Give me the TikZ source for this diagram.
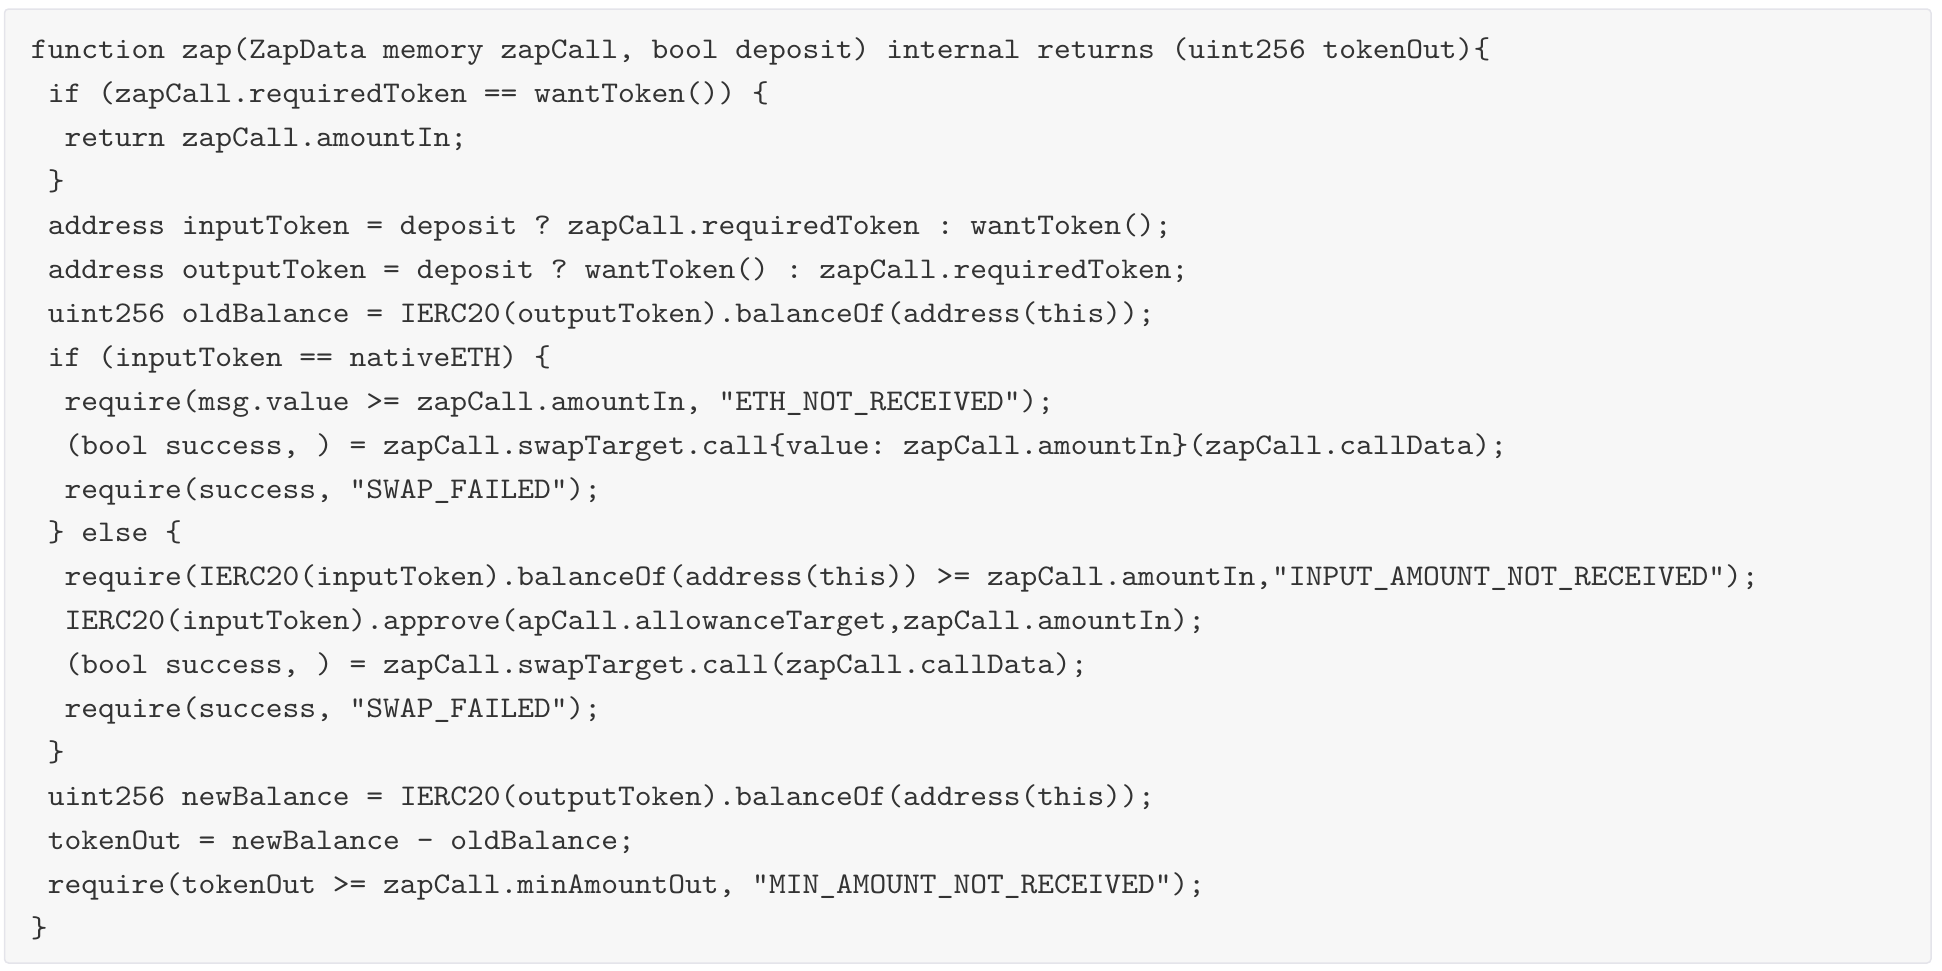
\documentclass[tikz,border=0pt]{standalone}
\usepackage{fontspec}
\newfontfamily\codefont{lmmono10-regular.otf}[FakeStretch=1.065]
\definecolor{codebg}{HTML}{F7F7F7}
\definecolor{codeborder}{HTML}{E4E4EA}
\definecolor{codetext}{HTML}{333333}
\tikzset{
  codeline/.style={anchor=base west, inner sep=0pt, outer sep=0pt, text=codetext,
    font=\codefont\fontsize{15pt}{18pt}\selectfont\frenchspacing},
  codebox/.style={draw=codeborder, fill=codebg, line width=0.75pt, rounded corners=2pt}
}
\newcommand\cx[1]{31+16.77*#1}
\newcommand\cy[1]{58.3+43.97*(#1-1)}
\begin{document}
\begin{tikzpicture}[x=0.5pt,y=-0.5pt]
\useasboundingbox (0,0) rectangle (1942,970);
\path[codebox] (4.5,9) rectangle (1931,963);
\node[codeline] (l1)  at ({\cx{0}},{\cy{1}})  {function zap(ZapData memory zapCall, bool deposit) internal returns (uint256 tokenOut)\{};
\node[codeline] (l2)  at ({\cx{1}},{\cy{2}})  {if (zapCall.requiredToken == wantToken()) \{};
\node[codeline] (l3)  at ({\cx{2}},{\cy{3}})  {return zapCall.amountIn;};
\node[codeline] (l4)  at ({\cx{1}},{\cy{4}})  {\}};
\node[codeline] (l5)  at ({\cx{1}},{\cy{5}})  {address inputToken = deposit ? zapCall.requiredToken : wantToken();};
\node[codeline] (l6)  at ({\cx{1}},{\cy{6}})  {address outputToken = deposit ? wantToken() : zapCall.requiredToken;};
\node[codeline] (l7)  at ({\cx{1}},{\cy{7}})  {uint256 oldBalance = IERC20(outputToken).balanceOf(address(this));};
\node[codeline] (l8)  at ({\cx{1}},{\cy{8}})  {if (inputToken == nativeETH) \{};
\node[codeline] (l9)  at ({\cx{2}},{\cy{9}})  {require(msg.value >= zapCall.amountIn, "ETH\_NOT\_RECEIVED");};
\node[codeline] (l10) at ({\cx{2}},{\cy{10}}) {(bool success, ) = zapCall.swapTarget.call\{value: zapCall.amountIn\}(zapCall.callData);};
\node[codeline] (l11) at ({\cx{2}},{\cy{11}}) {require(success, "SWAP\_FAILED");};
\node[codeline] (l12) at ({\cx{1}},{\cy{12}}) {\} else \{};
\node[codeline] (l13) at ({\cx{2}},{\cy{13}}) {require(IERC20(inputToken).balanceOf(address(this)) >= zapCall.amountIn,"INPUT\_AMOUNT\_NOT\_RECEIVED");};
\node[codeline] (l14) at ({\cx{2}},{\cy{14}}) {IERC20(inputToken).approve(apCall.allowanceTarget,zapCall.amountIn);};
\node[codeline] (l15) at ({\cx{2}},{\cy{15}}) {(bool success, ) = zapCall.swapTarget.call(zapCall.callData);};
\node[codeline] (l16) at ({\cx{2}},{\cy{16}}) {require(success, "SWAP\_FAILED");};
\node[codeline] (l17) at ({\cx{1}},{\cy{17}}) {\}};
\node[codeline] (l18) at ({\cx{1}},{\cy{18}}) {uint256 newBalance = IERC20(outputToken).balanceOf(address(this));};
\node[codeline] (l19) at ({\cx{1}},{\cy{19}}) {tokenOut = newBalance - oldBalance;};
\node[codeline] (l20) at ({\cx{1}},{\cy{20}}) {require(tokenOut >= zapCall.minAmountOut, "MIN\_AMOUNT\_NOT\_RECEIVED");};
\node[codeline] (l21) at ({\cx{0}},{\cy{21}}) {\}};
\end{tikzpicture}
\end{document}
